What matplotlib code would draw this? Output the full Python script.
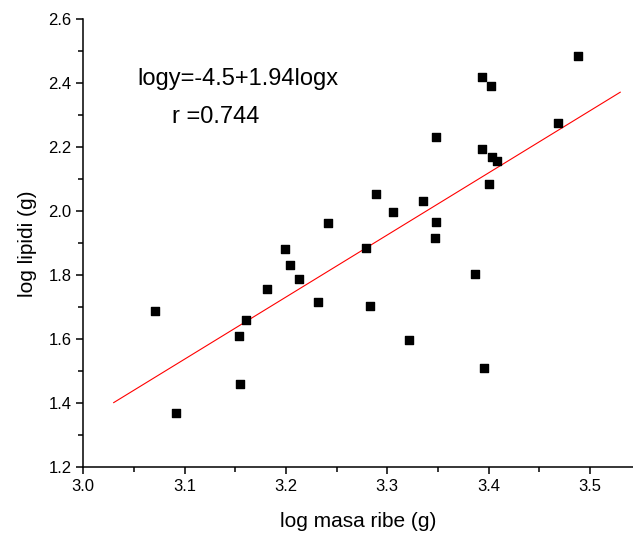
import numpy as np
import matplotlib
matplotlib.use('Agg')
import matplotlib.pyplot as plt
from matplotlib.ticker import MultipleLocator

plt.rcParams['font.family'] = ['Liberation Sans', 'DejaVu Sans']

# log masa ribe (g) / log lipidi (g)
log_masa = [3.0705, 3.0918, 3.154, 3.1603, 3.155, 3.1816, 3.199, 3.204, 3.2132,
            3.2317, 3.2419, 3.2788, 3.2833, 3.2893, 3.3054, 3.3212, 3.3356, 3.3475,
            3.3485, 3.3485, 3.3867, 3.394, 3.394, 3.3958, 3.4008, 3.402, 3.4035,
            3.4087, 3.4686, 3.488]
log_lipidi = [1.689, 1.369, 1.611, 1.659, 1.459, 1.757, 1.882, 1.832, 1.788,
              1.717, 1.962, 1.885, 1.704, 2.054, 1.997, 1.599, 2.032, 1.918,
              1.968, 2.231, 1.804, 2.421, 2.194, 1.511, 2.085, 2.391, 2.169,
              2.157, 2.275, 2.485]

# parametri della retta di regressione
intercept = -4.476
slope = 1.94
fit_range = [3.03, 3.53]

fig = plt.figure(figsize=(6.33, 5.38), dpi=100)
ax = fig.add_axes([0.1316, 0.1314, 0.8684, 0.8327])

ax.scatter(log_masa, log_lipidi, marker='s', s=40, color='black', zorder=3)
xf = np.array(fit_range)
ax.plot(xf, intercept + slope * xf, color='red', lw=0.8)

ax.set_xlim(3.0, 3.5426)
ax.set_ylim(1.2, 2.6)
ax.xaxis.set_major_locator(MultipleLocator(0.1))
ax.xaxis.set_minor_locator(MultipleLocator(0.05))
ax.yaxis.set_major_locator(MultipleLocator(0.2))
ax.yaxis.set_minor_locator(MultipleLocator(0.1))
ax.xaxis.set_major_formatter(plt.FormatStrFormatter('%.1f'))
ax.yaxis.set_major_formatter(plt.FormatStrFormatter('%.1f'))

for s in ['top', 'right']:
    ax.spines[s].set_visible(False)
for s in ['left', 'bottom']:
    ax.spines[s].set_linewidth(1.1)
ax.tick_params(which='major', length=5, width=1.1, labelsize=12, direction='out')
ax.tick_params(which='minor', length=3.5, width=1.1, direction='out')

ax.set_xlabel('log masa ribe (g)', fontsize=15, labelpad=13)
ax.set_ylabel('log lipidi (g)', fontsize=15, labelpad=8)

ax.text(0.0982, 0.8533, 'logy=-4.5+1.94logx', transform=ax.transAxes, fontsize=17)
ax.text(0.1608, 0.769, 'r =0.744', transform=ax.transAxes, fontsize=17)

fig.savefig('out.png', dpi=100)
